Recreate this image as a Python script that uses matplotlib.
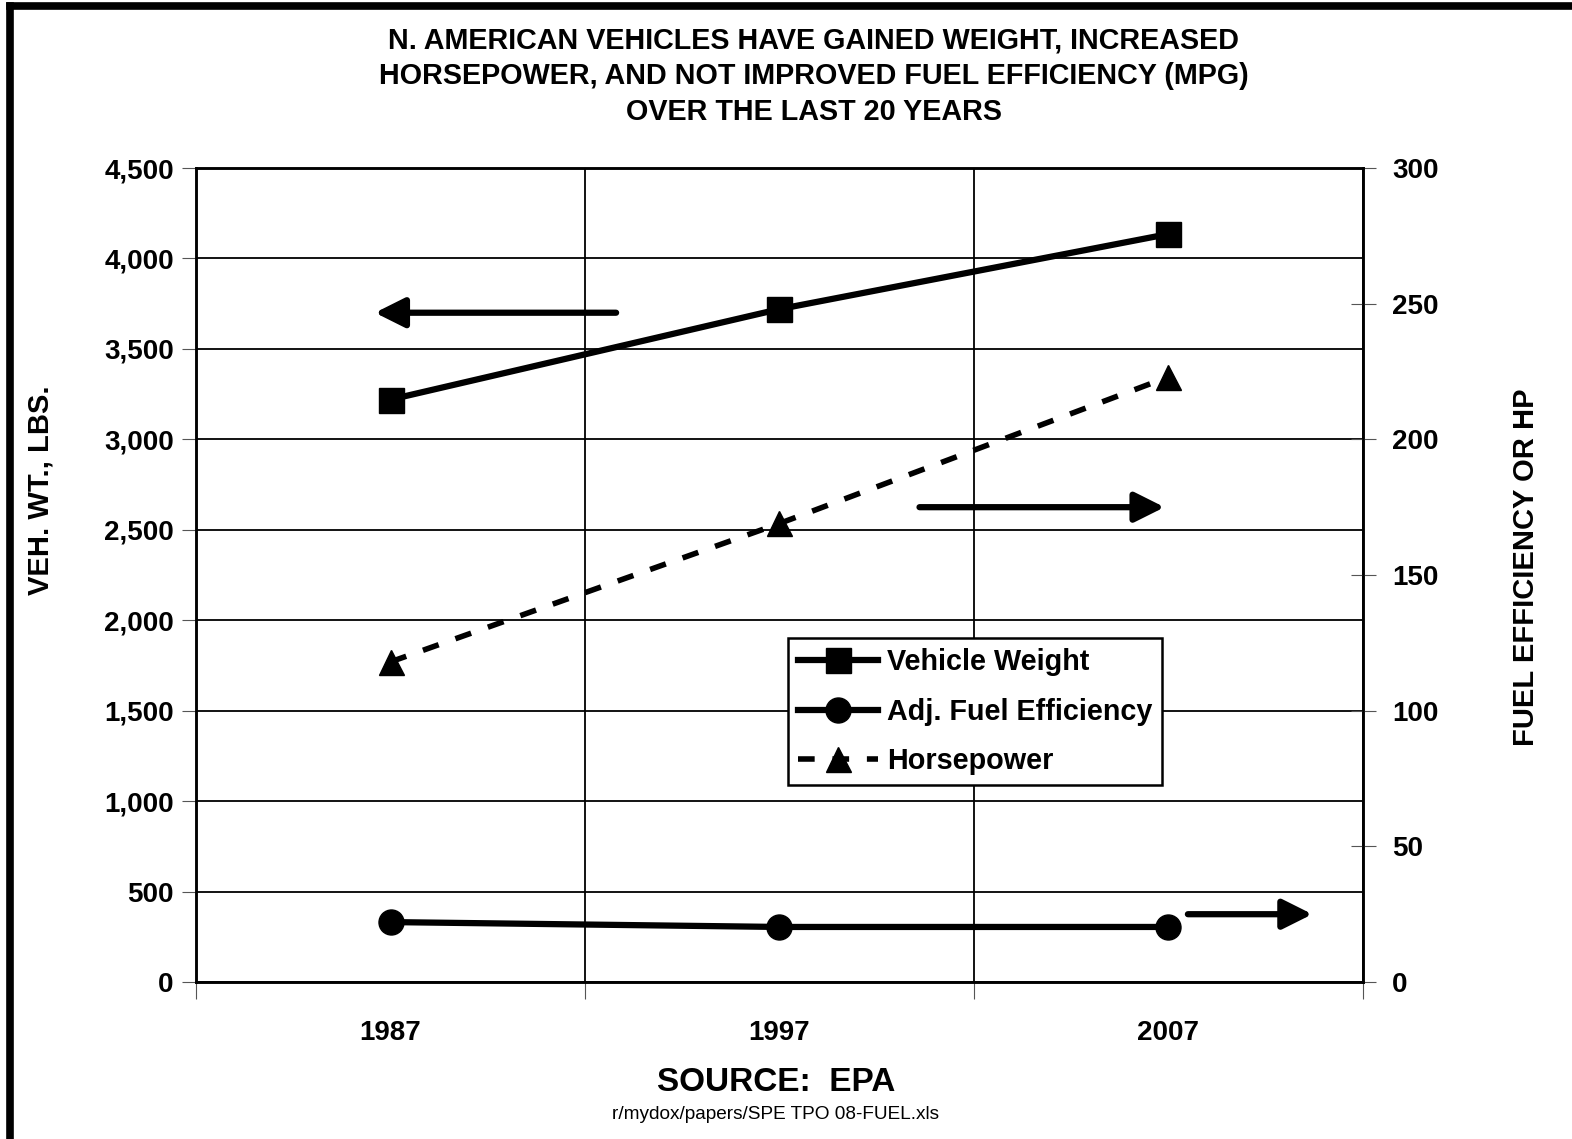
import matplotlib
matplotlib.use("Agg")
import matplotlib.pyplot as plt
from matplotlib.lines import Line2D

plt.rcParams['font.family'] = ['Liberation Sans', 'DejaVu Sans']
plt.rcParams['font.weight'] = 'bold'
plt.rcParams['axes.labelweight'] = 'bold'

# EPA trends, N. American light vehicles
years = ['1987', '1997', '2007']
weight = [3220, 3720, 4135]        # lbs, left axis
fuel_eff = [22.1, 20.3, 20.3]      # adjusted mpg, right axis
horsepower = [118, 169, 223]       # hp, right axis

# arrows pointing each series to its axis: (x_from, x_to, y)
arrow_left = (1.08, 0.46, 3700)
arrow_hp = (1.86, 2.49, 175)
arrow_mpg = (2.55, 2.87, 25)

fig = plt.figure(figsize=(15.72, 11.39), dpi=100)
ax = fig.add_axes([0.1247, 0.1378, 0.7423, 0.7147])
ax2 = ax.twinx()

xpos = [i + 0.5 for i in range(len(years))]

ax.set_xlim(0, 3)
ax.set_ylim(0, 4500)
ax2.set_ylim(0, 300)

ax.set_yticks(range(0, 4501, 500))
ax.set_yticklabels([f'{v:,}' for v in range(0, 4501, 500)])
ax2.set_yticks(range(0, 301, 50))

ax.set_xticks([0, 1, 2, 3])
ax.set_xticklabels([])
ax.set_xticks(xpos, minor=True)
ax.set_xticklabels(years, minor=True)
ax.tick_params(axis='x', which='minor', length=0, pad=27, labelsize=20)
ax.tick_params(axis='x', which='major', direction='out', length=12, color='#555555')
ax.tick_params(axis='y', direction='out', length=10, color='#555555', labelsize=20, pad=6)
ax2.tick_params(axis='y', direction='inout', length=18, color='#555555', labelsize=20, pad=12)

ax.grid(True, which='major', color='black', lw=1.3)
ax.set_axisbelow(True)
for a in (ax, ax2):
    for s in a.spines.values():
        s.set_linewidth(1.8)
        s.set_color('black')

l1, = ax.plot(xpos, weight, color='black', lw=4.5, marker='s', ms=18, zorder=5)
l2, = ax2.plot(xpos, fuel_eff, color='black', lw=4.5, marker='o', ms=18, zorder=5)
l3, = ax2.plot(xpos, horsepower, color='black', lw=4, ls=(0, (3, 3.2)),
               marker='^', ms=18, zorder=5)

arrow_style = dict(arrowstyle='-|>,head_length=0.9,head_width=0.45', color='black', lw=4.5,
                   shrinkA=0, shrinkB=0, mutation_scale=20)
ax.annotate('', xy=(arrow_left[1], arrow_left[2]), xytext=(arrow_left[0], arrow_left[2]),
            arrowprops=arrow_style)
ax2.annotate('', xy=(arrow_hp[1], arrow_hp[2]), xytext=(arrow_hp[0], arrow_hp[2]),
             arrowprops=arrow_style)
ax2.annotate('', xy=(arrow_mpg[1], arrow_mpg[2]), xytext=(arrow_mpg[0], arrow_mpg[2]),
             arrowprops=arrow_style)

leg = ax2.legend([l1, l2, l3], ['Vehicle Weight', 'Adj. Fuel Efficiency', 'Horsepower'],
                 loc='upper left', bbox_to_anchor=(0.507, 0.4226), fontsize=20.7,
                 frameon=True, fancybox=False, edgecolor='black', framealpha=1,
                 handlelength=2.8, handletextpad=0.3, borderpad=0.35,
                 labelspacing=0.75, borderaxespad=0)
leg.get_frame().set_linewidth(1.8)

ax.set_ylabel('VEH. WT., LBS.', fontsize=21)
ax.yaxis.set_label_coords(-0.121, 0.604)
ax2.set_ylabel('FUEL EFFICIENCY OR HP', fontsize=21, rotation=90)
ax2.yaxis.set_label_coords(1.128, 0.51)

fig.text(0.5177, 0.9333, 'N. AMERICAN VEHICLES HAVE GAINED WEIGHT, INCREASED\n'
         'HORSEPOWER, AND NOT IMPROVED FUEL EFFICIENCY (MPG)\n'
         'OVER THE LAST 20 YEARS', ha='center', va='center', fontsize=20.7,
         linespacing=1.35)
fig.text(0.4936, 0.0500, 'SOURCE:  EPA', ha='center', va='center', fontsize=24)
fig.text(0.4936, 0.0215, 'r/mydox/papers/SPE TPO 08-FUEL.xls', ha='center', va='center',
         fontsize=13.7, fontweight='normal')

# page frame along the top and left edges
fig.add_artist(Line2D([0.0065, 1], [0.9943, 0.9943], color='black', lw=5.5))
fig.add_artist(Line2D([0.0065, 0.0065], [0, 0.9943], color='black', lw=5.5))

fig.savefig('out.png', dpi=100)
